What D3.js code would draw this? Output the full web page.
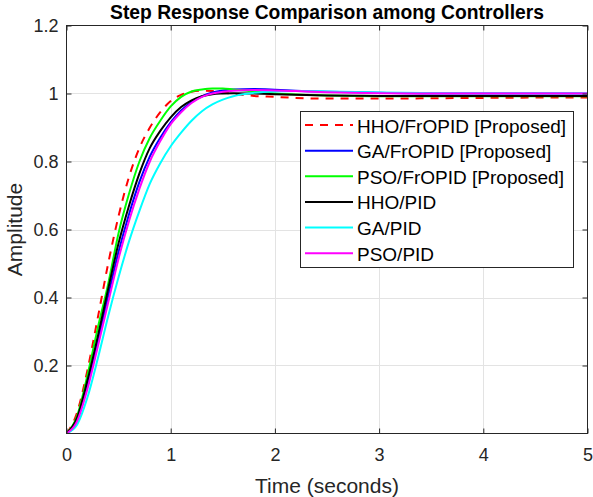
<!DOCTYPE html>
<html>
<head>
<meta charset="utf-8">
<script src="https://cdn.jsdelivr.net/npm/d3@7"></script>
<style>
body { margin: 0; background: #fff; }
text { font-family: "Liberation Sans", Arial, sans-serif; fill: #262626; }
</style>
</head>
<body>
<div id="chart"></div>
<script>
// time samples (s)
var timeVals = [0, 0.1, 0.2, 0.3, 0.4, 0.5, 0.6, 0.7, 0.8, 0.9, 1.0, 1.1, 1.2, 1.3, 1.4, 1.5, 1.6, 1.8, 2.0, 2.2, 2.5, 3.0, 3.5, 4.0, 4.5, 5.0];

// amplitudes
var hhoFr  = [0, 0.06, 0.185, 0.34, 0.50, 0.64, 0.755, 0.84, 0.90, 0.945, 0.978, 0.996, 1.005, 1.008, 1.007, 1.003, 0.999, 0.993, 0.99, 0.987, 0.985, 0.985, 0.986, 0.987, 0.988, 0.988];
var gaFr   = [0, 0.04, 0.145, 0.27, 0.405, 0.535, 0.645, 0.74, 0.815, 0.87, 0.915, 0.95, 0.975, 0.992, 1.003, 1.009, 1.012, 1.013, 1.011, 1.008, 1.005, 1.002, 1.0, 1.0, 1.0, 1.0];
var psoFr  = [0, 0.05, 0.17, 0.31, 0.44, 0.59, 0.705, 0.80, 0.87, 0.92, 0.962, 0.99, 1.006, 1.012, 1.015, 1.015, 1.012, 1.006, 1.0, 0.997, 0.994, 0.992, 0.992, 0.992, 0.992, 0.992];
var hhoPid = [0, 0.045, 0.155, 0.285, 0.425, 0.56, 0.67, 0.765, 0.84, 0.89, 0.93, 0.96, 0.98, 0.992, 0.998, 1.0, 1.001, 1.0, 0.998, 0.996, 0.994, 0.993, 0.993, 0.993, 0.993, 0.993];
var gaPid  = [0, 0.025, 0.105, 0.22, 0.345, 0.46, 0.565, 0.655, 0.735, 0.795, 0.845, 0.885, 0.92, 0.948, 0.968, 0.982, 0.992, 1.002, 1.006, 1.007, 1.006, 1.003, 1.001, 1.0, 1.0, 1.0];
var psoPid = [0, 0.035, 0.13, 0.255, 0.385, 0.515, 0.625, 0.72, 0.80, 0.86, 0.91, 0.945, 0.972, 0.99, 1.0, 1.005, 1.008, 1.01, 1.009, 1.007, 1.004, 1.001, 1.0, 1.0, 1.0, 1.0];

var seriesNames = ["HHO/FrOPID [Proposed]", "GA/FrOPID [Proposed]", "PSO/FrOPID [Proposed]", "HHO/PID", "GA/PID", "PSO/PID"];
var seriesColors = ["#ff0000", "#0000ff", "#00ff00", "#000000", "#00ffff", "#ff00ff"];
var seriesValues = [hhoFr, gaFr, psoFr, hhoPid, gaPid, psoPid];

var xTicks = [0, 1, 2, 3, 4, 5];
var yTicks = [0.2, 0.4, 0.6, 0.8, 1.0, 1.2];

var width = 593, height = 497;
var plotL = 66.5, plotR = 587.5, plotT = 25.5, plotB = 433.5;

var svg = d3.select("#chart").append("svg")
    .attr("width", width)
    .attr("height", height);

svg.append("rect").attr("width", width).attr("height", height).attr("fill", "#fff");

var x = d3.scaleLinear().domain([0, 5]).range([plotL, plotR]);
var y = d3.scaleLinear().domain([0, 1.2]).range([plotB, plotT]);

// grid
svg.append("g").selectAll("line").data(xTicks.slice(1, -1)).enter().append("line")
    .attr("x1", d => Math.round(x(d)) + 0.5).attr("x2", d => Math.round(x(d)) + 0.5)
    .attr("y1", plotT).attr("y2", plotB)
    .attr("stroke", "#e3e3e3").attr("stroke-width", 1);
svg.append("g").selectAll("line").data(yTicks.slice(0, -1)).enter().append("line")
    .attr("y1", d => Math.round(y(d)) + 0.5).attr("y2", d => Math.round(y(d)) + 0.5)
    .attr("x1", plotL).attr("x2", plotR)
    .attr("stroke", "#e3e3e3").attr("stroke-width", 1);

// lines
svg.append("clipPath").attr("id", "clip")
    .append("rect").attr("x", plotL).attr("y", plotT).attr("width", plotR - plotL).attr("height", plotB - plotT);

var line = d3.line()
    .x((d, i) => x(timeVals[i]))
    .y(d => y(d))
    .curve(d3.curveMonotoneX);

svg.append("g").attr("clip-path", "url(#clip)")
    .selectAll("path").data(seriesValues).enter().append("path")
    .attr("d", line)
    .attr("fill", "none")
    .attr("stroke", (d, i) => seriesColors[i])
    .attr("stroke-width", 2)
    .attr("stroke-dasharray", (d, i) => i == 0 ? "8,7" : null);

// axes
function styleAxis(g) {
    g.select(".domain").remove();
    g.attr("font-family", "Liberation Sans, Arial, sans-serif").attr("font-size", 18);
    g.selectAll("line").attr("stroke", "#262626");
    g.selectAll("text").attr("fill", "#262626");
}
svg.append("g").attr("transform", "translate(0," + plotB + ")")
    .call(d3.axisBottom(x).tickValues(xTicks).tickSize(-5).tickPadding(15).tickFormat(d3.format("d")))
    .call(styleAxis);
svg.append("g").attr("transform", "translate(0," + plotT + ")")
    .call(d3.axisTop(x).tickValues(xTicks).tickSize(-5).tickFormat(""))
    .call(styleAxis);
svg.append("g").attr("transform", "translate(" + plotL + ",0)")
    .call(d3.axisLeft(y).tickValues(yTicks).tickSize(-5).tickPadding(8).tickFormat(d => String(+d.toFixed(1))))
    .call(styleAxis);
svg.append("g").attr("transform", "translate(" + plotR + ",0)")
    .call(d3.axisRight(y).tickValues(yTicks).tickSize(-5).tickFormat(""))
    .call(styleAxis);

svg.append("rect")
    .attr("x", plotL).attr("y", plotT).attr("width", plotR - plotL).attr("height", plotB - plotT)
    .attr("fill", "none").attr("stroke", "#262626").attr("stroke-width", 1);

// title and labels
svg.append("text")
    .attr("x", (plotL + plotR) / 2).attr("y", 19)
    .attr("text-anchor", "middle")
    .style("font-size", "19.3px").style("font-weight", "bold")
    .style("fill", "#000")
    .text("Step Response Comparison among Controllers");

svg.append("text")
    .attr("x", (plotL + plotR) / 2).attr("y", 493)
    .attr("text-anchor", "middle")
    .style("font-size", "21px")
    .text("Time (seconds)");

svg.append("text")
    .attr("transform", "translate(22," + ((plotT + plotB) / 2) + ") rotate(-90)")
    .attr("text-anchor", "middle")
    .style("font-size", "21px")
    .text("Amplitude");

// legend
var legend = svg.append("g");
legend.append("rect")
    .attr("x", 300.5).attr("y", 111.5).attr("width", 273).attr("height", 156)
    .attr("fill", "#fff").attr("stroke", "#262626").attr("stroke-width", 1);
var rows = legend.selectAll("g.row").data(seriesNames).enter().append("g")
    .attr("class", "row")
    .attr("transform", (d, i) => "translate(0," + (125 + i * 25.65) + ")");
rows.append("line")
    .attr("x1", 305).attr("x2", 353)
    .attr("stroke", (d, i) => seriesColors[i])
    .attr("stroke-width", 2)
    .attr("stroke-dasharray", (d, i) => i == 0 ? "8,7" : null);
rows.append("text")
    .attr("x", 357).attr("y", 7.5)
    .style("font-size", "19px")
    .style("fill", "#000")
    .text(d => d);
</script>
</body>
</html>
